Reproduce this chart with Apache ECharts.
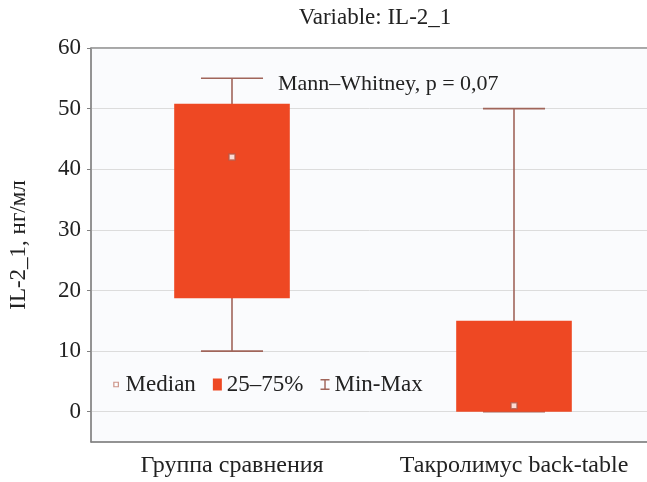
<!DOCTYPE html>
<html>
<head>
<meta charset="utf-8">
<script src="https://cdn.jsdelivr.net/npm/echarts@6/dist/echarts.min.js"></script>
<style>
html,body{margin:0;padding:0;background:#fff;}
#chart{width:647px;height:482px;}
</style>
</head>
<body>
<div id="chart"></div>
<script>
const categories = ['Группа сравнения', 'Такролимус back-table'];
const mins = [10, 0];
const q1s = [18.7, 0];
const medians = [42, 1];
const q3s = [50.8, 15];
const maxs = [55, 50];
const yTicks = [0, 10, 20, 30, 40, 50, 60];
const titleText = 'Variable: IL-2_1';
const testText = 'Mann–Whitney, p = 0,07';
const yName = 'IL-2_1, нг/мл';

const FONT = '"Liberation Serif", "Times New Roman", serif';
const BOX = '#ee4823';
const WHISK = '#a0655a';

const chart = echarts.init(document.getElementById('chart'));

const option = {
  backgroundColor: '#ffffff',
  animation: false,
  title: {
    text: titleText,
    left: 370, top: 1, textAlign: 'center',
    textStyle: {fontFamily: FONT, fontSize: 23, fontWeight: 'normal', color: '#222'}
  },
  grid: {
    left: 91, top: 48, width: 564, bottom: 40,
    outerBoundsMode: 'none', containLabel: false,
    show: true, backgroundColor: '#fafbfd', borderColor: '#9a9a9a', borderWidth: 1
  },
  legend: {
    left: 106, top: 368,
    itemWidth: 9, itemHeight: 12, itemGap: 17,
    textStyle: {fontFamily: FONT, fontSize: 23, color: '#222'},
    data: [
      {name: 'Median', icon: 'path://M0,0M12,12M3,3h6v6h-6z', itemStyle: {borderWidth: 1.2, borderColor: '#c07a6c'}},
      {name: '25–75%', icon: 'rect'},
      {name: 'Min-Max', icon: 'path://M0,0L10,0L10,1.6L5.8,1.6L5.8,10.4L10,10.4L10,12L0,12L0,10.4L4.2,10.4L4.2,1.6L0,1.6Z'}
    ]
  },
  xAxis: [{
    type: 'category', data: categories, position: 'bottom',
    axisLine: {onZero: false, lineStyle: {color: '#808080', width: 1.5}},
    axisTick: {alignWithLabel: true, inside: true, length: 3, lineStyle: {color: '#808080'}},
    axisLabel: {interval: 0, fontFamily: FONT, fontSize: 24, color: '#222', margin: 12}
  }, {
    type: 'category', data: categories, position: 'top',
    axisLine: {onZero: false, lineStyle: {color: '#9a9a9a', width: 1.5}},
    axisTick: {alignWithLabel: true, inside: true, length: 3, lineStyle: {color: '#808080'}},
    axisLabel: {show: false}
  }],
  yAxis: {
    type: 'value', min: -5, max: 60,
    name: yName, nameLocation: 'middle', nameGap: 61, nameRotate: 90,
    nameTextStyle: {fontFamily: FONT, fontSize: 23, color: '#222'},
    axisLine: {show: true, lineStyle: {color: '#808080', width: 1.5}},
    axisTick: {show: true, length: 4, customValues: yTicks, lineStyle: {color: '#808080'}},
    axisLabel: {customValues: yTicks, fontFamily: FONT, fontSize: 23, color: '#222', margin: 10},
    splitLine: {show: true, lineStyle: {color: '#dcdcdc', width: 1}}
  },
  series: [{
    name: 'Min-Max', type: 'custom',
    itemStyle: {color: WHISK},
    data: categories.map((c, i) => [i, mins[i], maxs[i]]),
    renderItem: function (params, api) {
      const x = api.value(0);
      const pMin = api.coord([x, api.value(1)]);
      const pMax = api.coord([x, api.value(2)]);
      const half = api.size([1, 0])[0] * 0.11;
      const st = {stroke: WHISK, lineWidth: 1.6};
      return {type: 'group', children: [
        {type: 'line', shape: {x1: pMin[0], y1: pMin[1], x2: pMax[0], y2: pMax[1]}, style: st},
        {type: 'line', shape: {x1: pMax[0] - half, y1: pMax[1], x2: pMax[0] + half, y2: pMax[1]}, style: st},
        {type: 'line', shape: {x1: pMin[0] - half, y1: pMin[1], x2: pMin[0] + half, y2: pMin[1]}, style: st}
      ]};
    },
    z: 2
  }, {
    name: '25–75%', type: 'custom',
    itemStyle: {color: BOX},
    data: categories.map((c, i) => [i, q1s[i], q3s[i]]),
    renderItem: function (params, api) {
      const x = api.value(0);
      const pLo = api.coord([x, api.value(1)]);
      const pHi = api.coord([x, api.value(2)]);
      const w = api.size([1, 0])[0] * 0.41;
      return {type: 'rect', shape: {x: pLo[0] - w / 2, y: pHi[1], width: w, height: pLo[1] - pHi[1]},
        style: {fill: BOX}};
    },
    z: 3
  }, {
    name: 'Median', type: 'scatter',
    symbol: 'rect', symbolSize: 6,
    itemStyle: {color: '#ffffff', borderColor: '#b45a4a', borderWidth: 1.5},
    data: categories.map((c, i) => [i, medians[i]]),
    z: 4
  }],
  graphic: [{
    type: 'text', left: 278, top: 73,
    style: {text: testText, font: '22px ' + FONT, fill: '#222'}
  }]
};
chart.setOption(option);
</script>
</body>
</html>
